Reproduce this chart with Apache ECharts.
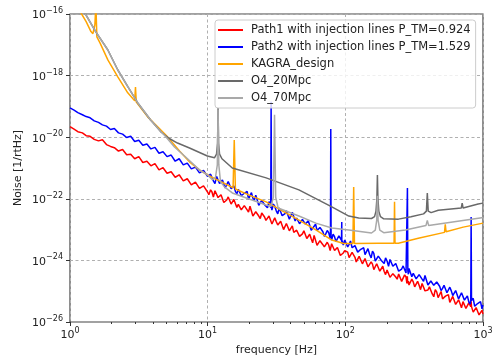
<!DOCTYPE html>
<html>
<head>
<meta charset="utf-8">
<script src="https://cdn.jsdelivr.net/npm/echarts@6/dist/echarts.min.js"></script>
<style>
  html, body { margin: 0; padding: 0; background: #fff; }
  #chart { width: 497px; height: 361px; }
</style>
</head>
<body>
<div id="chart"></div>
<script>
// frequency bins [Hz] shared by the two measured spectra
const freqs = [
  1.00, 1.07, 1.14, 1.23, 1.31, 1.40, 1.50, 1.61, 1.72, 1.84, 1.97, 2.10, 2.25, 2.41, 2.58, 2.76, 2.95, 3.16,
  3.38, 3.62, 3.87, 4.14, 4.43, 4.74, 5.07, 5.43, 5.81, 6.21, 6.65, 7.11, 7.61, 8.15, 8.72, 9.33, 9.98,
  10.5, 11.0, 11.6, 12.2, 12.8, 13.4, 14.1, 14.8, 15.5, 16.3, 17.1, 18.0, 18.9, 19.8, 20.8, 21.8, 22.9, 24.1,
  25.3, 26.5, 27.9, 29.3, 30.7, 32.3, 33.9, 35.6, 37.3, 39.2, 41.2, 43.2, 45.4, 47.6, 50.0, 52.5, 55.1, 57.9,
  60.8, 63.8, 67.0, 70.4, 73.9, 77.6, 81.5, 85.5, 89.8, 94.3, 99.0, 104, 109, 115, 120, 126, 133, 139, 146,
  154, 161, 169, 178, 187, 196, 206, 216, 227, 238, 250, 263, 276, 290, 304, 319, 335, 352, 370, 388, 408,
  428, 450, 472, 496, 521, 547, 574, 603, 633, 665, 698, 733, 770, 808, 849, 891, 936, 983, 1000
]
// extra bins between the ones above, above 10 Hz
const freqsMid = [
  10.2, 10.75, 11.3, 11.9, 12.5, 13.1, 13.75, 14.45, 15.15, 15.9, 16.7, 17.55, 18.45, 19.35, 20.3, 21.3,
  22.35, 23.5, 24.7, 25.9, 27.2, 28.6, 30.0, 31.5, 33.1, 34.75, 36.45, 38.25, 40.2, 42.2, 44.3, 46.5,
  48.8, 51.2, 53.8, 56.5, 59.3, 62.3, 65.4, 68.7, 72.1, 75.7, 79.5, 83.5, 87.6, 92.0, 96.6, 101.5,
  106.5, 112, 117.5, 123, 129.5, 136, 142.5, 150, 157.5, 165, 173.5, 182.5, 191.5, 201, 211, 221.5,
  232.5, 244, 256.5, 269.5, 287, 297, 311.5, 327, 343.5, 361, 379, 398, 418, 439, 461, 484, 508.5,
  534, 560.5, 588.5, 618, 649, 681.5, 715.5, 751.5, 789, 828.5, 870, 913.5, 959.5, 991.5
]

// log10 of the noise
const path1Log = [
  -19.66, -19.74, -19.82, -19.86, -19.95, -19.97, -20.07, -20.12, -20.08, -20.24, -20.30, -20.34, -20.45, -20.40,
  -20.57, -20.55, -20.70, -20.63, -20.82, -20.78, -20.93, -20.86, -21.06, -20.99, -21.17, -21.12, -21.30, -21.22,
  -21.42, -21.35, -21.55, -21.46, -21.66, -21.58, -21.78,
  -21.71, -21.94, -21.76, -22.00, -21.87, -22.14, -21.94, -22.17, -22.02, -22.28, -22.13, -22.40, -22.19, -22.43,
  -22.29, -22.56, -22.40, -22.64, -22.44, -22.70, -22.56, -22.82, -22.62, -22.85, -22.73, -23.00, -22.80, -23.04,
  -22.88, -23.15, -22.99, -23.25, -23.04, -23.29, -23.15, -23.43, -23.23, -23.48, -23.31, -23.56, -23.41, -23.68,
  -23.49, -23.74, -23.56, -23.84, -23.68, -23.73, -23.95, -23.79, -24.05, -23.87, -24.11, -23.94, -24.21, -24.05,
  -24.30, -24.11, -24.35, -24.19, -24.46, -24.29, -24.56, -24.38, -24.61, -24.43, -24.68, -24.54, -24.80, -24.61,
  -24.86, -24.68, -24.95, -24.79, -25.04, -24.86, -25.09, -24.95, -25.21, -25.01, -25.27, -25.12, -25.36, -25.17,
  -25.43, -25.28, -25.54, -25.35, -25.59, -25.42, -25.68, -25.53, -25.77, -25.62, -25.74
]
const path1MidLog = [
  -21.87, -21.78, -21.74, -21.96, -21.87, -22.12, -22.04, -21.97, -22.20, -22.02,
  -22.18, -22.36, -22.22, -22.36, -22.24, -22.56, -22.42, -22.56, -22.46, -22.59,
  -22.66, -22.62, -22.86, -22.74, -22.86, -22.76, -23.00, -22.78, -22.98, -23.09,
  -23.02, -23.22, -23.14, -23.08, -23.32, -23.30, -23.19, -23.51, -23.36, -23.49,
  -23.59, -23.50, -23.46, -23.68, -23.58, -23.84, -23.76, -23.69, -23.91, -23.74,
  -23.90, -24.06, -23.93, -24.07, -23.95, -24.26, -24.12, -24.26, -24.15, -24.29,
  -24.36, -24.31, -24.55, -24.43, -24.54, -24.44, -24.68, -24.47, -24.67, -24.77,
  -24.70, -24.90, -24.81, -24.75, -24.99, -24.96, -24.85, -25.18, -25.02, -25.15,
  -25.25, -25.16, -25.11, -25.33, -25.23, -25.49, -25.41, -25.34, -25.56, -25.38,
  -25.54, -25.71, -25.57, -25.72, -25.58
]
const path2Log = [
  -19.05, -19.12, -19.20, -19.27, -19.33, -19.37, -19.47, -19.52, -19.60, -19.64, -19.75, -19.72, -19.86, -19.90,
  -20.01, -19.97, -20.14, -20.10, -20.26, -20.22, -20.38, -20.33, -20.52, -20.47, -20.63, -20.58, -20.78, -20.70,
  -20.90, -20.84, -21.03, -20.97, -21.16, -21.08, -21.27,
  -21.20, -21.42, -21.27, -21.50, -21.39, -21.65, -21.44, -21.67, -21.58, -21.84, -21.64, -21.89, -21.79, -22.01,
  -21.80, -22.05, -21.93, -22.21, -22.01, -22.25, -22.09, -22.37, -22.24, -22.49, -22.28, -22.51, -22.39, -22.66,
  -22.44, -22.72, -22.60, -22.85, -22.65, -22.88, -22.76, -23.03, -22.82, -23.08, -22.95, -23.22, -23.03, -23.28,
  -23.15, -23.39, -23.20, -23.45, -23.34, -23.56, -23.37, -23.63, -23.47, -23.75, -23.58, -23.81, -23.62, -23.92,
  -23.77, -24.02, -23.82, -24.05, -23.92, -24.19, -23.98, -24.25, -24.11, -24.37, -24.18, -24.41, -24.26, -24.53,
  -24.36, -24.63, -24.42, -24.68, -24.55, -24.81, -24.62, -24.86, -24.70, -24.98, -24.81, -25.05, -24.87, -25.14,
  -24.98, -25.25, -25.05, -25.29, -25.15, -25.42, -25.23, -25.48, -25.35, -25.57, -25.45
]
const path2MidLog = [
  -21.30, -21.26, -21.51, -21.39, -21.51, -21.41, -21.66, -21.45, -21.64, -21.76,
  -21.69, -21.90, -21.82, -21.76, -22.01, -21.98, -21.88, -22.21, -22.05, -22.19,
  -22.29, -22.21, -22.17, -22.39, -22.30, -22.55, -22.48, -22.42, -22.64, -22.47,
  -22.63, -22.81, -22.67, -22.82, -22.71, -23.02, -22.89, -23.03, -22.93, -23.07,
  -23.14, -23.10, -23.34, -23.23, -23.35, -23.25, -23.50, -23.28, -23.48, -23.59,
  -23.52, -23.73, -23.64, -23.59, -23.83, -23.80, -23.70, -24.02, -23.86, -24.00,
  -24.10, -24.02, -23.97, -24.19, -24.10, -24.35, -24.28, -24.21, -24.45, -24.26,
  -24.42, -24.60, -24.46, -24.61, -24.49, -24.80, -24.67, -24.81, -24.70, -24.84,
  -24.91, -24.87, -25.11, -24.99, -25.11, -25.01, -25.25, -25.04, -25.23, -25.35,
  -25.28, -25.49, -25.40, -25.34, -25.57
]

// injection lines [freq, log10 noise]
const path1Lines = [[280, -24.75], [282, -24.52], [284, -24.75], [815, -25.5], [820, -25.33], [825, -25.5]]
const path2Lines = [
  [28.7, -22.3], [28.9, -18.85], [29.1, -22.3],
  [78.0, -23.2], [78.4, -19.73], [78.8, -23.2],
  [93.8, -23.35], [94.2, -22.75], [94.6, -23.35],
  [280.5, -24.35], [282.5, -21.65], [284.5, -24.35],
  [815, -25.3], [820, -22.59], [825, -25.3]
]

const kagraDesign = [
  [1.0, -15.35], [1.20, -15.96], [1.31, -16.25], [1.42, -16.57], [1.467, -16.64], [1.516, -16.35], [1.542, -15.7],
  [1.567, -16.74], [1.648, -16.93], [1.883, -17.49], [2.224, -18.04], [2.627, -18.56], [2.951, -18.82],
  [2.99, -18.37], [3.03, -18.86], [3.664, -19.34], [4.329, -19.66], [5.113, -19.99], [6.245, -20.45],
  [7.375, -20.80], [8.71, -21.06], [10.29, -21.26], [12.15, -21.42], [15.3, -21.64], [15.6, -20.09],
  [15.9, -21.68], [20.03, -21.88], [26.6, -22.10], [46.0, -22.69], [61.1, -23.01], [79.8, -23.34],
  [97.3, -23.45], [113.5, -23.45], [115, -21.62], [116.5, -23.45], [174, -23.44], [226, -23.44],
  [227.7, -22.10], [229.5, -23.44], [243, -23.44], [339, -23.28], [525, -23.09], [532, -22.83],
  [539, -23.07], [718, -22.92], [1000, -22.79]
]
const o4_20Mpc = [
  [1.0, -15.1], [1.28, -15.96], [1.54, -16.58], [1.88, -17.16], [2.22, -17.81], [2.63, -18.36], [3.10, -18.88],
  [3.85, -19.44], [4.33, -19.70], [4.6, -19.84], [5.3, -20.05], [6.04, -20.19], [7.38, -20.35], [9.95, -20.61],
  [11.2, -20.67], [11.6, -20.55], [11.8, -20.2], [11.9, -19.05], [12.0, -20.2], [12.2, -20.55], [12.7, -20.7],
  [15.1, -21.0], [26.6, -21.32], [46.0, -21.71], [79.8, -22.26], [106, -22.56], [125, -22.62], [155, -22.64],
  [163, -22.58], [167, -22.4], [169.5, -22.0], [171, -21.23], [172.5, -22.0], [175, -22.4], [180, -22.58],
  [190, -22.65], [243, -22.66], [300, -22.58], [370, -22.49], [388, -22.4], [394, -21.81], [400, -22.4],
  [420, -22.45], [473, -22.37], [695, -22.30], [706, -22.14], [717, -22.30], [922, -22.17], [1000, -22.14]
]
const o4_70Mpc = [
  [1.0, -15.1], [1.28, -15.96], [1.54, -16.58], [1.88, -17.16], [2.22, -17.81], [2.63, -18.36], [3.10, -18.88],
  [3.85, -19.44], [4.33, -19.70], [5.0, -20.0], [5.74, -20.32], [6.79, -20.61], [8.71, -21.06], [9.95, -21.22],
  [10.8, -21.38], [11.4, -21.3], [11.75, -20.9], [11.9, -19.1], [12.05, -20.9], [12.4, -21.45], [13.3, -21.62],
  [15.1, -21.81], [26.6, -22.20], [28.8, -22.25], [30.0, -21.95], [30.6, -19.27], [31.2, -21.95], [32.5, -22.3],
  [46.0, -22.56], [61.1, -22.79], [79.8, -22.95], [106, -23.01], [155, -23.11], [165, -23.02], [169, -22.7],
  [171, -21.9], [173, -22.7], [178, -23.02], [190, -23.1], [273, -23.01], [385, -22.87], [394, -22.70],
  [403, -22.87], [952, -22.62], [1000, -22.61]
]

const seriesNames = [
  'Path1 with injection lines P_TM=0.924',
  'Path2 with injection lines P_TM=1.529',
  'KAGRA_design',
  'O4_20Mpc',
  'O4_70Mpc'
]
const seriesColors = ['#ff0000', '#0000ff', '#ffa500', '#696969', '#a9a9a9']
const xMinorTicks = [2, 3, 4, 5, 6, 7, 8, 9, 20, 30, 40, 50, 60, 70, 80, 90, 200, 300, 400, 500, 600, 700, 800, 900]
// y tick labels, as powers of ten
const yTickExps = [-26, -24, -22, -20, -18, -16]

const toPoints = pairs => pairs
  .slice()
  .sort((a, b) => a[0] - b[0])
  .map(p => [p[0], Math.pow(10, p[1])])

const measured = (logs, midLogs, lines) => toPoints(
  freqs.map((f, i) => [f, logs[i]])
    .concat(freqsMid.map((f, i) => [f, midLogs[i]]))
    .concat(lines)
)

const seriesData = [
  measured(path1Log, path1MidLog, path1Lines),
  measured(path2Log, path2MidLog, path2Lines),
  toPoints(kagraDesign),
  toPoints(o4_20Mpc),
  toPoints(o4_70Mpc)
]

const font = 'DejaVu Sans'
const expLabel = e => '{b|10}{e|' + String(Math.round(e)).replace('-', '\u2212') + '}'
const powRich = {
  b: { fontSize: 11, fontFamily: font, color: '#222', lineHeight: 14, verticalAlign: 'bottom' },
  e: { fontSize: 8, fontFamily: font, color: '#222', lineHeight: 8, verticalAlign: 'top' }
}
const gridLine = { show: true, lineStyle: { color: '#b0b0b0', width: 1, type: [3, 2.5] } }

const chart = echarts.init(document.getElementById('chart'))
chart.setOption({
  animation: false,
  backgroundColor: '#fff',
  grid: {
    left: 70, right: 14, top: 14, bottom: 39,
    show: true, borderColor: '#444', borderWidth: 1.2, backgroundColor: 'transparent',
    containLabel: false, outerBoundsMode: 'none'
  },
  legend: {
    orient: 'vertical',
    left: 215,
    top: 20,
    padding: [3, 5, 3, 3],
    icon: 'rect',
    itemWidth: 25,
    itemHeight: 2,
    itemGap: 3,
    backgroundColor: 'rgba(255,255,255,0.8)',
    borderColor: '#cccccc',
    borderWidth: 1,
    borderRadius: 3,
    textStyle: { fontSize: 11.5, fontFamily: font, color: '#222', lineHeight: 14, padding: [0, 0, 0, 3] },
    data: seriesNames
  },
  xAxis: [
    {
      type: 'log', logBase: 10, min: 1, max: 1000,
      name: 'frequency [Hz]', nameLocation: 'middle', nameGap: 23, nameMoveOverlap: false,
      nameTextStyle: { fontSize: 11, fontFamily: font, color: '#222' },
      axisLine: { show: false },
      axisTick: { show: true, length: 4, lineStyle: { color: '#333' } },
      axisLabel: {
        formatter: v => expLabel(Math.log10(v)), rich: powRich, margin: 5,
        showMinLabel: true, showMaxLabel: true, hideOverlap: false
      },
      splitLine: gridLine
    },
    {
      // minor ticks, placed on a plain axis in decades
      type: 'value', min: 0, max: 3, position: 'bottom',
      axisLine: { show: false },
      axisLabel: { show: false },
      splitLine: { show: false },
      axisTick: { show: true, length: 2, customValues: xMinorTicks.map(Math.log10), lineStyle: { color: '#333' } }
    }
  ],
  yAxis: [
    {
      type: 'log', logBase: 10, min: 1e-26, max: 1e-16, interval: 2,
      name: 'Noise [1/rtHz]', nameLocation: 'middle', nameGap: 46, nameMoveOverlap: false,
      nameTextStyle: { fontSize: 11, fontFamily: font, color: '#222' },
      axisLine: { show: false },
      axisTick: { show: false },
      axisLabel: { show: false },
      splitLine: gridLine
    },
    {
      // tick marks and labels, on a plain axis in decades
      type: 'value', min: -26, max: -16, position: 'left', offset: 0,
      axisLine: { show: false },
      splitLine: { show: false },
      axisTick: { show: true, length: 4, customValues: yTickExps, lineStyle: { color: '#333' } },
      axisLabel: {
        customValues: yTickExps, formatter: v => expLabel(v), rich: powRich, margin: 7,
        showMinLabel: true, showMaxLabel: true, hideOverlap: false
      }
    }
  ],
  series: seriesData.map((data, i) => ({
    name: seriesNames[i],
    type: 'line',
    xAxisIndex: 0,
    yAxisIndex: 0,
    data,
    symbol: 'none',
    clip: true,
    color: seriesColors[i],
    lineStyle: { width: 1.5, color: seriesColors[i] }
  }))
})
</script>
</body>
</html>
